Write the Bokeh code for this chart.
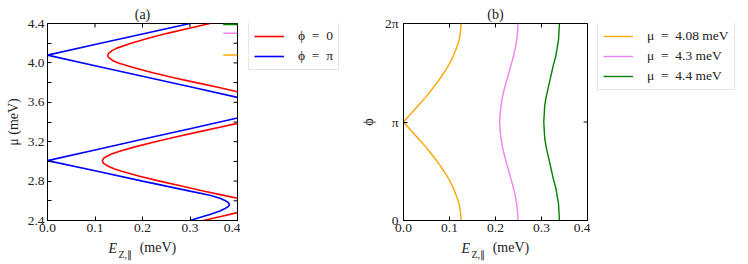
import numpy as np
from bokeh.plotting import figure
from bokeh.models import (Range1d, FixedTicker, PrintfTickFormatter, LinearAxis,
                          Legend, LegendItem)
from bokeh.layouts import row
from bokeh.embed import file_html
from bokeh.resources import INLINE

FONT = "Liberation Serif"
TXT = "#222222"

# ---------------- Panel (a): E_Z vs mu ----------------
# phi = 0 (red), three branches
red_a_x = [0.342, 0.296, 0.252, 0.212, 0.176, 0.146, 0.136, 0.129, 0.128, 0.127, 0.128, 0.130, 0.137,
           0.149, 0.182, 0.222, 0.266, 0.313, 0.361, 0.400]
red_a_mu = [4.40, 4.35, 4.30, 4.25, 4.20, 4.15, 4.125, 4.10, 4.09, 4.075, 4.06, 4.05, 4.025,
            4.00, 3.95, 3.90, 3.85, 3.80, 3.75, 3.707]
red_b_x = [0.400, 0.365, 0.318, 0.272, 0.227, 0.186, 0.150, 0.135, 0.124, 0.118, 0.1155, 0.118, 0.128,
           0.140, 0.156, 0.194, 0.236, 0.282, 0.328, 0.376, 0.400]
red_b_mu = [3.386, 3.35, 3.30, 3.25, 3.20, 3.15, 3.10, 3.075, 3.05, 3.03, 3.004, 2.98, 2.95,
            2.925, 2.90, 2.85, 2.80, 2.75, 2.70, 2.65, 2.626]
red_c_x = [0.328, 0.365, 0.400]
red_c_mu = [2.40, 2.44, 2.48]

# phi = pi (blue), two branches
blue_a_x = [0.30, 0.20, 0.10, 0.0, 0.10, 0.20, 0.30, 0.40]
blue_a_mu = [4.40, 4.293, 4.186, 4.079, 3.972, 3.865, 3.758, 3.65]
blue_b_x = [0.40, 0.30, 0.20, 0.10, 0.0, 0.10, 0.20, 0.30, 0.342, 0.363, 0.375, 0.381, 0.383,
            0.381, 0.375, 0.363, 0.342, 0.322, 0.30]
blue_b_mu = [3.44, 3.332, 3.224, 3.116, 3.008, 2.905, 2.80, 2.698, 2.657, 2.625, 2.600, 2.580, 2.562,
             2.544, 2.525, 2.497, 2.462, 2.432, 2.40]

phi_labels = ["ϕ\u2002=\u20020", "ϕ\u2002=\u2002π"]
phi_colors = ["red", "blue"]

# chemical potentials used in panel (b)
mu_values = [4.08, 4.3, 4.4]
mu_colors = ["orange", "violet", "green"]
mu_labels = ["μ\u2002=\u20024.08 meV", "μ\u2002=\u20024.3 meV", "μ\u2002=\u20024.4 meV"]

# ---------------- Panel (b): E_Z vs phi (phi in units of pi) ----------------
phi_pi = [0, 0.083, 0.167, 0.25, 0.333, 0.417, 0.5, 0.583, 0.667, 0.75, 0.833, 0.917, 1.0,
          1.083, 1.167, 1.25, 1.333, 1.417, 1.5, 1.583, 1.667, 1.75, 1.833, 1.917, 2.0]
ez_mu408 = [0.125, 0.124, 0.121, 0.115, 0.108, 0.099, 0.088, 0.076, 0.062, 0.048, 0.032, 0.016, 0.0,
            0.016, 0.032, 0.048, 0.062, 0.076, 0.088, 0.099, 0.108, 0.115, 0.121, 0.124, 0.125]
ez_mu43 = [0.249, 0.248, 0.246, 0.243, 0.239, 0.234, 0.229, 0.224, 0.219, 0.215, 0.212, 0.210, 0.209,
           0.210, 0.212, 0.215, 0.219, 0.224, 0.229, 0.234, 0.239, 0.243, 0.246, 0.248, 0.249]
ez_mu44 = [0.339, 0.338, 0.337, 0.334, 0.331, 0.326, 0.322, 0.318, 0.314, 0.310, 0.307, 0.306, 0.305,
           0.306, 0.307, 0.310, 0.314, 0.318, 0.322, 0.326, 0.331, 0.334, 0.337, 0.338, 0.339]

x_ticks = [0.0, 0.1, 0.2, 0.3, 0.4]
mu_major = [2.4, 2.8, 3.2, 3.6, 4.0, 4.4]
mu_minor = [2.6, 3.0, 3.4, 3.8, 4.2]
phi_ticks = [0, 1, 2]
phi_tick_labels = {0: "0", 1: "π", 2: "2π"}

H = 264
FRAME_W, FRAME_H, TICK = 190, 197, 4
TOP = 23
EM, QEM, THIN = "\u2003", "\u2005", "\u2009"


def join(*branches):
    xs, ys = [], []
    for bx, by in branches:
        if xs:
            xs.append(np.nan)
            ys.append(np.nan)
        xs += list(bx)
        ys += list(by)
    return xs, ys


def style_axis(ax):
    ax.major_tick_in = TICK
    ax.major_tick_out = 0
    ax.minor_tick_in = TICK
    ax.minor_tick_out = 0
    ax.axis_line_color = "black"
    ax.major_tick_line_color = "black"
    ax.minor_tick_line_color = "black"
    ax.major_label_text_font = FONT
    ax.major_label_text_font_size = "13.5px"
    ax.major_label_text_color = TXT
    ax.major_label_standoff = 3
    ax.axis_label_text_font = FONT
    ax.axis_label_text_font_style = "normal"
    ax.axis_label_text_font_size = "14px"
    ax.axis_label_text_color = TXT


def bare_axis(text, size, style, standoff):
    # tick-less axis that only carries one piece of the x label
    ax = LinearAxis(ticker=FixedTicker(ticks=[]), axis_label=text)
    ax.axis_line_color = None
    ax.major_tick_line_color = None
    ax.minor_tick_line_color = None
    ax.major_tick_in = 0
    ax.major_tick_out = 0
    ax.minor_tick_in = 0
    ax.minor_tick_out = 0
    ax.major_label_standoff = 0
    ax.axis_label_text_font = FONT
    ax.axis_label_text_font_style = style
    ax.axis_label_text_font_size = size
    ax.axis_label_text_color = TXT
    ax.axis_label_standoff = standoff
    return ax


def make_fig(y_range, left_border, title):
    right_border = 3
    p = figure(width=left_border + FRAME_W + right_border, height=H,
               x_range=Range1d(0, 0.4), y_range=y_range,
               output_backend="svg", toolbar_location=None, title=title,
               min_border_left=left_border, min_border_right=right_border,
               min_border_top=TOP, min_border_bottom=H - TOP - FRAME_H)
    p.xgrid.grid_line_color = None
    p.ygrid.grid_line_color = None
    p.outline_line_color = "black"
    p.outline_line_width = 1
    p.title.align = "center"
    p.title.text_font = FONT
    p.title.text_font_style = "normal"
    p.title.text_font_size = "14px"
    p.title.text_color = TXT
    p.title.standoff = 3
    style_axis(p.xaxis[0])
    style_axis(p.yaxis[0])
    p.xaxis.ticker = FixedTicker(ticks=x_ticks)
    p.xaxis.formatter = PrintfTickFormatter(format="%.1f")
    # x label  "E_{Z,∥} (meV)"  built from three centred pieces
    p.xaxis.axis_label = EM + EM + THIN + "(meV)"
    p.xaxis.axis_label_standoff = 5
    p.add_layout(bare_axis("E" + EM * 4 + QEM, "14px", "italic", -17), "below")
    p.add_layout(bare_axis("Z,∥" + EM * 3 + QEM + THIN, "10px", "normal", -10), "below")
    return p


def mirror_ticks(p, y0, y1, y_ticks):
    # inward ticks on the top and right frame edges
    dx = TICK * 0.4 / FRAME_W
    dy = TICK * (y1 - y0) / FRAME_H
    p.segment(x0=x_ticks, y0=[y1] * len(x_ticks), x1=x_ticks, y1=[y1 - dy] * len(x_ticks),
              line_color="black", line_width=1)
    p.segment(x0=[0.4] * len(y_ticks), y0=y_ticks, x1=[0.4 - dx] * len(y_ticks), y1=y_ticks,
              line_color="black", line_width=1)


def legend_fig(width, labels, colors, lw, row_h, x_off):
    # a bare figure that only holds the legend box (its frame is aligned with the panels)
    f = figure(width=width, height=H, x_range=Range1d(0, 1), y_range=Range1d(0, 1),
               x_axis_type=None, y_axis_type=None, output_backend="svg",
               toolbar_location=None, min_border=0)
    f.outline_line_color = None
    items = []
    for lab, c in zip(labels, colors):
        r = f.line(x=[np.nan], y=[np.nan], line_color=c, line_width=lw)
        items.append(LegendItem(label=lab, renderers=[r]))
    n = len(labels)
    pad, spacing = 5, 4
    height = 2 * pad + n * row_h + (n - 1) * spacing
    lg = Legend(items=items, location=(x_off, FRAME_H - 1 - height))
    lg.label_text_font = FONT
    lg.label_text_font_size = "13.5px"
    lg.label_text_color = TXT
    lg.glyph_width = 30
    lg.glyph_height = row_h
    lg.label_height = row_h
    lg.label_standoff = 14
    lg.spacing = spacing
    lg.padding = pad
    lg.margin = 0
    lg.border_line_color = "#cccccc"
    lg.border_line_width = 1
    lg.background_fill_color = "white"
    lg.background_fill_alpha = 0.8
    f.add_layout(lg)
    return f


# ---------- figure (a) ----------
p1 = make_fig(Range1d(2.4, 4.4), 47, "(a)")
p1.yaxis.ticker = FixedTicker(ticks=mu_major, minor_ticks=mu_minor)
p1.yaxis.formatter = PrintfTickFormatter(format="%.1f")
p1.yaxis.axis_label = "μ (meV)"
p1.yaxis.axis_label_standoff = 4
mirror_ticks(p1, 2.4, 4.4, mu_major + mu_minor)

rx, ry = join((red_a_x, red_a_mu), (red_b_x, red_b_mu), (red_c_x, red_c_mu))
bx, by = join((blue_a_x, blue_a_mu), (blue_b_x, blue_b_mu))
p1.line(rx, ry, line_color=phi_colors[0], line_width=1.6)
p1.line(bx, by, line_color=phi_colors[1], line_width=1.6)
p1.segment(x0=[0.37] * 3, y0=mu_values, x1=[0.4] * 3, y1=mu_values,
           line_color=mu_colors, line_width=[1.5, 1.5, 3.5])

leg1 = legend_fig(357 - p1.width, phi_labels, phi_colors, 1.6, 16, 8)

# ---------- figure (b) ----------
p2 = make_fig(Range1d(0, 2), 40, "(b)")
p2.yaxis.ticker = FixedTicker(ticks=phi_ticks)
p2.yaxis.major_label_overrides = phi_tick_labels
p2.yaxis.major_label_standoff = 5
p2.yaxis.axis_label = "ϕ"
p2.yaxis.axis_label_standoff = 6
mirror_ticks(p2, 0, 2, phi_ticks)

for ez, c in zip([ez_mu408, ez_mu43, ez_mu44], mu_colors):
    p2.line(ez, phi_pi, line_color=c, line_width=1.4)

leg2 = legend_fig(748 - 357 - p2.width, mu_labels, mu_colors, 1.4, 16, 7)

layout = row(p1, leg1, p2, leg2)
open("out.html", "w").write(file_html(layout, INLINE))
